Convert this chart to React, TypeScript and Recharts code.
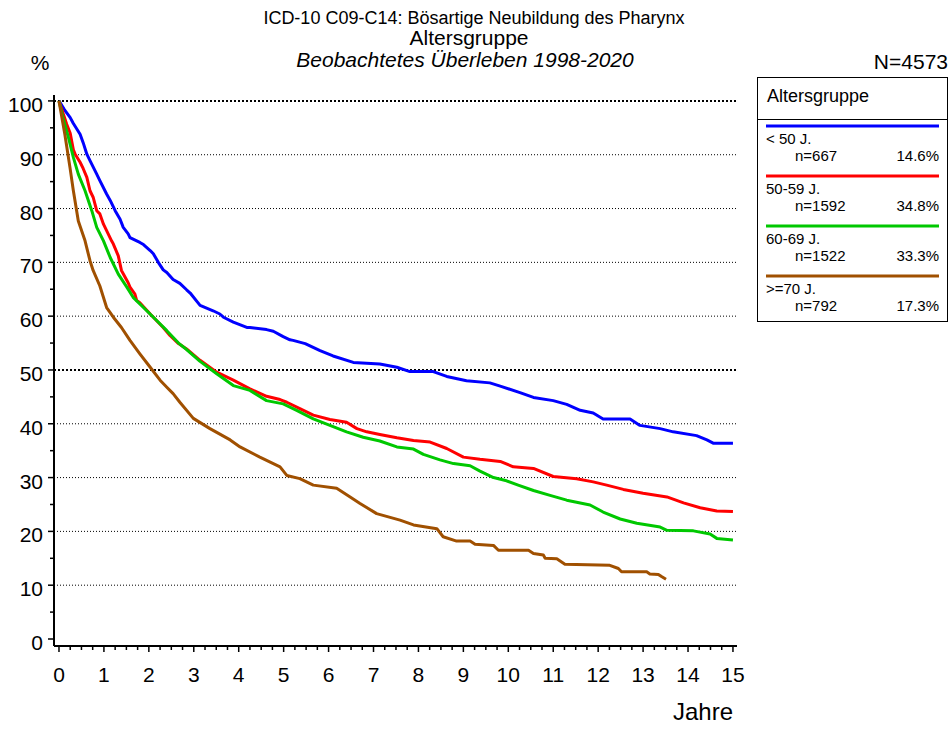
import { LineChart, Line, XAxis, YAxis, ReferenceLine } from "recharts";

// Beobachtetes Überleben nach Altersgruppe, Jahre vs. %
const T_LT50 = [0, 0.12, 0.25, 0.32, 0.47, 0.54, 0.62, 0.69, 0.84, 0.91, 1.06, 1.14, 1.25, 1.36, 1.43, 1.54, 1.58, 1.8, 1.88, 2.03, 2.1, 2.21, 2.32, 2.4, 2.54, 2.69, 2.84, 2.92, 3.14, 3.43, 3.58, 3.66, 3.88, 4.18, 4.25, 4.62, 4.77, 4.99, 5.14, 5.21, 5.48, 5.81, 6.1, 6.55, 7.14, 7.52, 7.81, 8.33, 8.63, 9.07, 9.59, 9.82, 10.26, 10.56, 11.0, 11.3, 11.6, 11.89, 12.11, 12.71, 12.93, 13.38, 13.67, 14.19, 14.42, 14.56, 15.0];
const S_LT50 = [100, 98.4, 96.9, 95.8, 93.8, 92.2, 90.1, 88.9, 86.4, 85.2, 82.7, 81.5, 79.6, 78.0, 76.5, 75.3, 74.6, 73.7, 73.3, 72.2, 71.6, 70.0, 68.6, 68.1, 66.8, 66.1, 64.9, 64.3, 62.0, 61.0, 60.4, 59.8, 58.9, 57.9, 57.9, 57.5, 57.2, 56.2, 55.6, 55.5, 54.9, 53.6, 52.6, 51.4, 51.1, 50.5, 49.7, 49.7, 48.8, 48.0, 47.6, 47.0, 45.8, 44.9, 44.3, 43.6, 42.5, 42.0, 40.9, 40.9, 39.7, 39.1, 38.5, 37.8, 37.0, 36.4, 36.4];

const T_50_59 = [0, 0.1, 0.17, 0.25, 0.32, 0.36, 0.47, 0.54, 0.62, 0.69, 0.76, 0.84, 0.91, 0.99, 1.06, 1.17, 1.21, 1.32, 1.39, 1.54, 1.58, 1.69, 1.73, 1.8, 2.03, 2.32, 2.47, 2.66, 2.84, 3.14, 3.51, 3.88, 4.25, 4.62, 4.92, 5.07, 5.36, 5.66, 6.03, 6.4, 6.63, 6.85, 7.14, 7.52, 7.89, 8.26, 8.63, 9.0, 9.37, 9.82, 10.11, 10.56, 11.0, 11.52, 11.89, 12.19, 12.56, 13.0, 13.53, 13.9, 14.27, 14.64, 15.0];
const S_50_59 = [100, 97.5, 95.7, 94.0, 90.9, 90.1, 88.6, 87.4, 85.8, 83.3, 82.1, 79.6, 79.0, 77.1, 75.9, 74.0, 73.4, 71.2, 68.5, 66.2, 65.4, 64.1, 62.9, 62.5, 60.4, 57.9, 56.4, 54.9, 53.9, 51.8, 49.6, 48.1, 46.5, 45.1, 44.5, 44.0, 42.8, 41.6, 40.8, 40.3, 39.1, 38.5, 38.0, 37.4, 36.9, 36.6, 35.4, 33.8, 33.4, 33.0, 32.0, 31.7, 30.2, 29.8, 29.2, 28.6, 27.8, 27.1, 26.4, 25.3, 24.4, 23.8, 23.7];

const T_60_69 = [0, 0.1, 0.21, 0.32, 0.43, 0.58, 0.73, 0.84, 0.99, 1.14, 1.32, 1.51, 1.65, 1.88, 2.1, 2.4, 2.66, 2.84, 3.14, 3.51, 3.88, 4.25, 4.62, 4.99, 5.29, 5.66, 6.03, 6.4, 6.77, 7.14, 7.52, 7.89, 8.11, 8.48, 8.78, 9.15, 9.37, 9.67, 9.96, 10.22, 10.56, 10.93, 11.3, 11.82, 12.11, 12.49, 12.86, 13.38, 13.53, 14.12, 14.49, 14.64, 15.0];
const S_60_69 = [100, 96.5, 93.2, 89.5, 86.4, 83.3, 79.6, 76.5, 74.0, 70.9, 67.8, 65.4, 63.5, 61.6, 59.8, 57.3, 55.0, 53.8, 51.6, 49.3, 47.1, 46.2, 44.3, 43.7, 42.5, 40.9, 39.7, 38.5, 37.5, 36.8, 35.7, 35.3, 34.3, 33.3, 32.6, 32.2, 31.2, 30.0, 29.4, 28.6, 27.6, 26.7, 25.8, 24.9, 23.6, 22.3, 21.5, 20.8, 20.2, 20.1, 19.5, 18.7, 18.4];

const T_GE70 = [0, 0.13, 0.245, 0.32, 0.43, 0.58, 0.69, 0.76, 0.91, 1.06, 1.21, 1.39, 1.58, 1.8, 2.03, 2.25, 2.4, 2.54, 2.69, 2.99, 3.36, 3.81, 4.03, 4.47, 4.92, 5.07, 5.36, 5.66, 6.18, 6.48, 6.7, 7.07, 7.59, 7.89, 8.41, 8.55, 8.85, 9.15, 9.26, 9.67, 9.78, 10.45, 10.56, 10.78, 10.82, 11.08, 11.26, 12.26, 12.45, 12.52, 13.08, 13.15, 13.34, 13.41, 13.51];
const S_GE70 = [100, 93.8, 87.6, 83.3, 77.7, 74.0, 70.3, 68.5, 65.6, 61.6, 59.8, 57.9, 55.5, 53.0, 50.5, 48.1, 46.8, 45.6, 44.0, 41.0, 39.1, 37.0, 35.7, 33.8, 32.0, 30.4, 29.8, 28.6, 28.0, 26.4, 25.2, 23.3, 22.1, 21.2, 20.5, 19.0, 18.2, 18.2, 17.6, 17.4, 16.5, 16.5, 15.9, 15.6, 15.0, 14.9, 13.9, 13.7, 13.1, 12.5, 12.5, 12.1, 12.0, 11.6, 11.1];

const GROUPS = ["< 50 J.", "50-59 J.", "60-69 J.", ">=70 J."];
const GROUP_N = [667, 1592, 1522, 792];
const GROUP_PCT = ["14.6%", "34.8%", "33.3%", "17.3%"];
const COLORS = ["#0000ff", "#ff0000", "#00c800", "#a05000"];

const X_TICKS = Array.from({ length: 61 }, (_, i) => i / 4);
const Y_TICKS = Array.from({ length: 21 }, (_, i) => i * 5);
const GRID_LINES = [10, 20, 30, 40, 50, 60, 70, 80, 90, 100];

const FONT = '"Liberation Sans", Arial, sans-serif';

function toRows(ts: number[], ss: number[]) {
  return ts.map((t, i) => ({ t, s: ss[i] }));
}

const SERIES = [
  toRows(T_LT50, S_LT50),
  toRows(T_50_59, S_50_59),
  toRows(T_60_69, S_60_69),
  toRows(T_GE70, S_GE70),
];

function XTick(props: any) {
  const { x, y, payload } = props;
  const v = payload.value;
  const major = Math.abs(v - Math.round(v)) < 1e-6;
  return (
    <g>
      <line x1={x} x2={x} y1={y} y2={y + (major ? 6 : 4)} stroke="#000" strokeWidth={1.5} />
      {major && (
        <text x={x} y={y + 36} textAnchor="middle" fontSize={21} fontFamily={FONT} fill="#000">
          {Math.round(v)}
        </text>
      )}
    </g>
  );
}

function YTick(props: any) {
  const { x, y, payload } = props;
  const v = payload.value;
  const major = v % 10 === 0;
  return (
    <g>
      <line x1={x} x2={x - (major ? 6 : 4)} y1={y} y2={y} stroke="#000" strokeWidth={1.5} />
      {major && (
        <text x={x - 11} y={y + 11} textAnchor="end" fontSize={21} fontFamily={FONT} fill="#000">
          {v}
        </text>
      )}
    </g>
  );
}

export default function App() {
  return (
    <div style={{ position: "absolute", left: 0, top: 0, width: 949, height: 729, background: "#fff" }}>
      <LineChart width={949} height={729} margin={{ top: 95, right: 212, bottom: 43, left: 14 }}>
        <XAxis
          type="number"
          dataKey="t"
          domain={[-0.111, 15.09]}
          allowDataOverflow
          ticks={X_TICKS}
          interval={0}
          height={40}
          tickSize={0}
          tickMargin={0}
          tickLine={false}
          axisLine={{ stroke: "#000", strokeWidth: 2 }}
          tick={<XTick />}
        />
        <YAxis
          type="number"
          domain={[-1.3, 101.1]}
          allowDataOverflow
          ticks={Y_TICKS}
          interval={0}
          width={40}
          tickSize={0}
          tickMargin={0}
          tickLine={false}
          axisLine={{ stroke: "#000", strokeWidth: 2 }}
          tick={<YTick />}
        />
        {GRID_LINES.map((g) => (
          <ReferenceLine
            key={g}
            y={g}
            stroke="#000"
            strokeWidth={g % 50 === 0 ? 2 : 1}
            strokeDasharray={g % 50 === 0 ? "2 2" : "1 2"}
          />
        ))}
        {SERIES.map((rows, i) => (
          <Line
            key={GROUPS[i]}
            data={rows}
            dataKey="s"
            name={GROUPS[i]}
            type="linear"
            stroke={COLORS[i]}
            strokeWidth={3}
            strokeLinejoin="round"
            dot={false}
            activeDot={false}
            isAnimationActive={false}
          />
        ))}
      </LineChart>

      <svg
        width={949}
        height={729}
        style={{ position: "absolute", left: 0, top: 0, pointerEvents: "none" }}
        fontFamily={FONT}
      >
        <text x={474} y={24} textAnchor="middle" fontSize={18}>
          ICD-10 C09-C14: Bösartige Neubildung des Pharynx
        </text>
        <text x={469} y={45} textAnchor="middle" fontSize={21}>
          Altersgruppe
        </text>
        <text x={465} y={67} textAnchor="middle" fontSize={21} fontStyle="italic">
          Beobachtetes Überleben 1998-2020
        </text>
        <text x={40} y={70} textAnchor="middle" fontSize={21}>
          %
        </text>
        <text x={948} y={69} textAnchor="end" fontSize={21}>
          N=4573
        </text>
        <text x={733} y={720} textAnchor="end" fontSize={24}>
          Jahre
        </text>

        <rect x={757.5} y={77.5} width={190} height={244} fill="#fff" stroke="#000" strokeWidth={1} />
        <line x1={757.5} x2={947.5} y1={119.5} y2={119.5} stroke="#000" strokeWidth={1} />
        <text x={767} y={102} fontSize={18}>
          Altersgruppe
        </text>
        {GROUPS.map((g, i) => (
          <g key={g}>
            <line x1={766} x2={939} y1={126 + 50 * i} y2={126 + 50 * i} stroke={COLORS[i]} strokeWidth={3} />
            <text x={766} y={144 + 50 * i} fontSize={15}>
              {g}
            </text>
            <text x={795} y={161 + 50 * i} fontSize={15}>
              n={GROUP_N[i]}
            </text>
            <text x={939} y={161 + 50 * i} fontSize={15} textAnchor="end">
              {GROUP_PCT[i]}
            </text>
          </g>
        ))}
      </svg>
    </div>
  );
}
